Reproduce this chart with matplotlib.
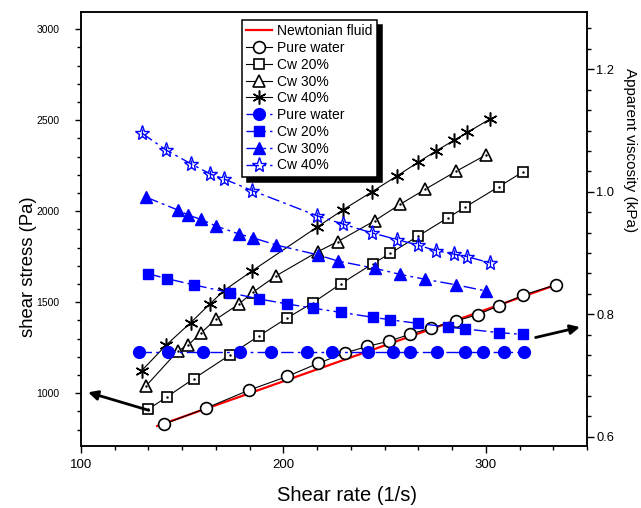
import matplotlib
matplotlib.use("Agg")
import matplotlib.pyplot as plt
from matplotlib.ticker import MultipleLocator, FormatStrFormatter

plt.rcParams['font.family'] = ['Liberation Sans', 'DejaVu Sans']

# ---- data ----
newton_x = [137.6, 334.5]
newton_y = [820, 1595]

pw_x = [141.0, 162.0, 182.8, 201.8, 217.3, 230.3, 241.4, 252.1, 262.6, 273.0, 285.3, 296.0, 306.3, 318.5, 334.5]
pw_stress = [830, 919, 1016, 1092, 1165, 1221, 1257, 1286, 1324, 1359, 1397, 1432, 1480, 1540, 1595]

cw20_x = [133.3, 142.6, 155.7, 173.8, 187.8, 201.6, 214.4, 228.5, 244.2, 252.7, 266.6, 281.4, 289.7, 306.3, 318.3]
cw20_stress = [912, 981, 1080, 1212, 1314, 1412, 1496, 1602, 1712, 1768, 1864, 1965, 2022, 2134, 2216]
cw20_visc = [0.866, 0.858, 0.848, 0.835, 0.825, 0.817, 0.810, 0.803, 0.795, 0.791, 0.785, 0.779, 0.776, 0.770, 0.767]

cw30_x = [132.3, 148.0, 153.0, 159.1, 166.8, 178.0, 184.8, 196.5, 217.0, 226.8, 245.1, 257.8, 270.1, 285.4, 300.0]
cw30_stress = [1042, 1234, 1265, 1330, 1407, 1490, 1554, 1646, 1778, 1833, 1948, 2039, 2121, 2220, 2309]
cw30_visc = [0.991, 0.970, 0.962, 0.955, 0.944, 0.931, 0.925, 0.913, 0.897, 0.887, 0.875, 0.865, 0.857, 0.848, 0.838]

cw40_x = [130.0, 142.1, 154.2, 163.9, 170.6, 184.5, 216.5, 229.6, 243.6, 256.1, 266.4, 275.2, 284.4, 290.9, 301.9]
cw40_stress = [1124, 1265, 1388, 1493, 1564, 1672, 1912, 2009, 2106, 2194, 2268, 2330, 2391, 2433, 2506]
cw40_visc = [1.096, 1.068, 1.046, 1.029, 1.021, 1.002, 0.961, 0.947, 0.933, 0.922, 0.913, 0.904, 0.898, 0.894, 0.884]

pwv_x = [128.6, 142.8, 160.5, 178.7, 193.7, 211.6, 224.2, 242.0, 254.3, 262.6, 276.1, 289.8, 298.7, 308.8, 318.9]
pwv_visc = [0.739, 0.739, 0.739, 0.739, 0.739, 0.739, 0.739, 0.739, 0.739, 0.739, 0.739, 0.739, 0.739, 0.739, 0.739]

labels = ['Newtonian fluid', 'Pure water', 'Cw 20%', 'Cw 30%', 'Cw 40%',
          'Pure water', 'Cw 20%', 'Cw 30%', 'Cw 40%']

# ---- figure ----
fig = plt.figure(figsize=(6.41, 5.08), dpi=100)
ax = fig.add_axes([81/641, 1-446/508, 506/641, 434/508])
ax2 = ax.twinx()

blk = dict(color='black', lw=0.8)
hN, = ax.plot(newton_x, newton_y, color='red', lw=1.6, zorder=1.5)
h1, = ax.plot(pw_x, pw_stress, marker='o', ms=8.5, mfc='white', mec='black', mew=1.2, **blk)
h2, = ax.plot(cw20_x, cw20_stress, marker='s', ms=6.5, mfc='white', mec='black', mew=1.2, **blk)
ax.plot(cw20_x, cw20_stress, ls='none', marker='.', ms=1.5, color='black')
h3, = ax.plot(cw30_x, cw30_stress, marker='^', ms=8, mfc='white', mec='black', mew=1.2, **blk)
ax.plot(cw30_x, cw30_stress, ls='none', marker='.', ms=1.5, color='black')
h4, = ax.plot(cw40_x, cw40_stress, marker=(6, 2, 0), ms=10, mec='black', mew=1.1, **blk)

dd = (0, (9, 3, 2, 3))
h5, = ax2.plot(pwv_x, pwv_visc, marker='o', ms=8.5, color='blue', mec='blue', lw=1, ls=dd)
h6, = ax2.plot(cw20_x, cw20_visc, marker='s', ms=7, color='blue', mec='blue', lw=1, ls=dd)
h7, = ax2.plot(cw30_x, cw30_visc, marker='^', ms=9, color='blue', mec='blue', lw=1, ls=dd)
h8, = ax2.plot(cw40_x, cw40_visc, marker='*', ms=11, color='blue', mfc='none', mec='blue', mew=1.0, lw=1, ls=dd)
ax2.plot(cw40_x, cw40_visc, ls='none', marker='|', ms=6, color='blue', mew=0.9)

ax.set_xlim(100, 350)
ax.set_ylim(710, 3095)
ax2.set_ylim(0.5848, 1.2936)

ax.xaxis.set_major_locator(MultipleLocator(100))
ax.xaxis.set_minor_locator(MultipleLocator(100/6))
ax.yaxis.set_major_locator(MultipleLocator(500))
ax.yaxis.set_minor_locator(MultipleLocator(100))
ax2.yaxis.set_major_locator(MultipleLocator(0.2))
ax2.yaxis.set_minor_locator(MultipleLocator(0.2/6))
ax2.yaxis.set_major_formatter(FormatStrFormatter('%.1f'))

for a in (ax, ax2):
    for s in a.spines.values():
        s.set_linewidth(1.1)
ax.tick_params(axis='x', which='major', direction='out', length=5, width=1, labelsize=9.5, pad=4)
ax.tick_params(axis='x', which='minor', direction='out', length=3, width=1)
ax.tick_params(axis='y', which='major', direction='out', length=4.5, width=1, labelsize=7.5, pad=11)
ax.tick_params(axis='y', which='minor', direction='out', length=3, width=1)
ax2.tick_params(axis='y', which='major', direction='out', length=5, width=1, labelsize=9.3, pad=1.5)
ax2.tick_params(axis='y', which='minor', direction='out', length=3, width=1)

ax.set_xlabel('Shear rate (1/s)', fontsize=14.5)
ax.xaxis.set_label_coords(0.526, -0.115)
ax.xaxis.label.set_va('center')
ax.set_ylabel('shear stress (Pa)', fontsize=13.3)
ax.yaxis.set_label_coords(-0.1047, 0.413)
ax.yaxis.label.set_va('center')
ax2.set_ylabel('Apparent viscosity (kPa)', fontsize=11, rotation=270)
ax2.yaxis.set_label_coords(1.085, 0.682)
ax2.yaxis.label.set_va('center')

# arrows
ax.annotate('', xy=(103.5, 1005), xytext=(133.5, 906),
            arrowprops=dict(arrowstyle='-|>', lw=2, color='black', mutation_scale=14,
                            shrinkA=0, shrinkB=0))
ax2.annotate('', xy=(346.5, 0.779), xytext=(324.6, 0.762),
             arrowprops=dict(arrowstyle='-|>', lw=2, color='black', mutation_scale=14,
                             shrinkA=0, shrinkB=0))

leg = ax2.legend([hN, h1, h2, h3, h4, h5, h6, h7, h8], labels,
                 loc='upper left', bbox_to_anchor=(241.7/641, 1-20/508),
                 bbox_transform=fig.transFigure, borderaxespad=0,
                 fontsize=10, numpoints=1, handlelength=1.9, handletextpad=0.35,
                 labelspacing=0.2, borderpad=0.3, fancybox=False,
                 shadow={'ox': 3.6, 'oy': -3.6, 'color': 'black', 'alpha': 1},
                 framealpha=1, edgecolor='black')
leg.get_frame().set_linewidth(1.1)
leg.set_zorder(10)

fig.savefig('out.png', dpi=100)
